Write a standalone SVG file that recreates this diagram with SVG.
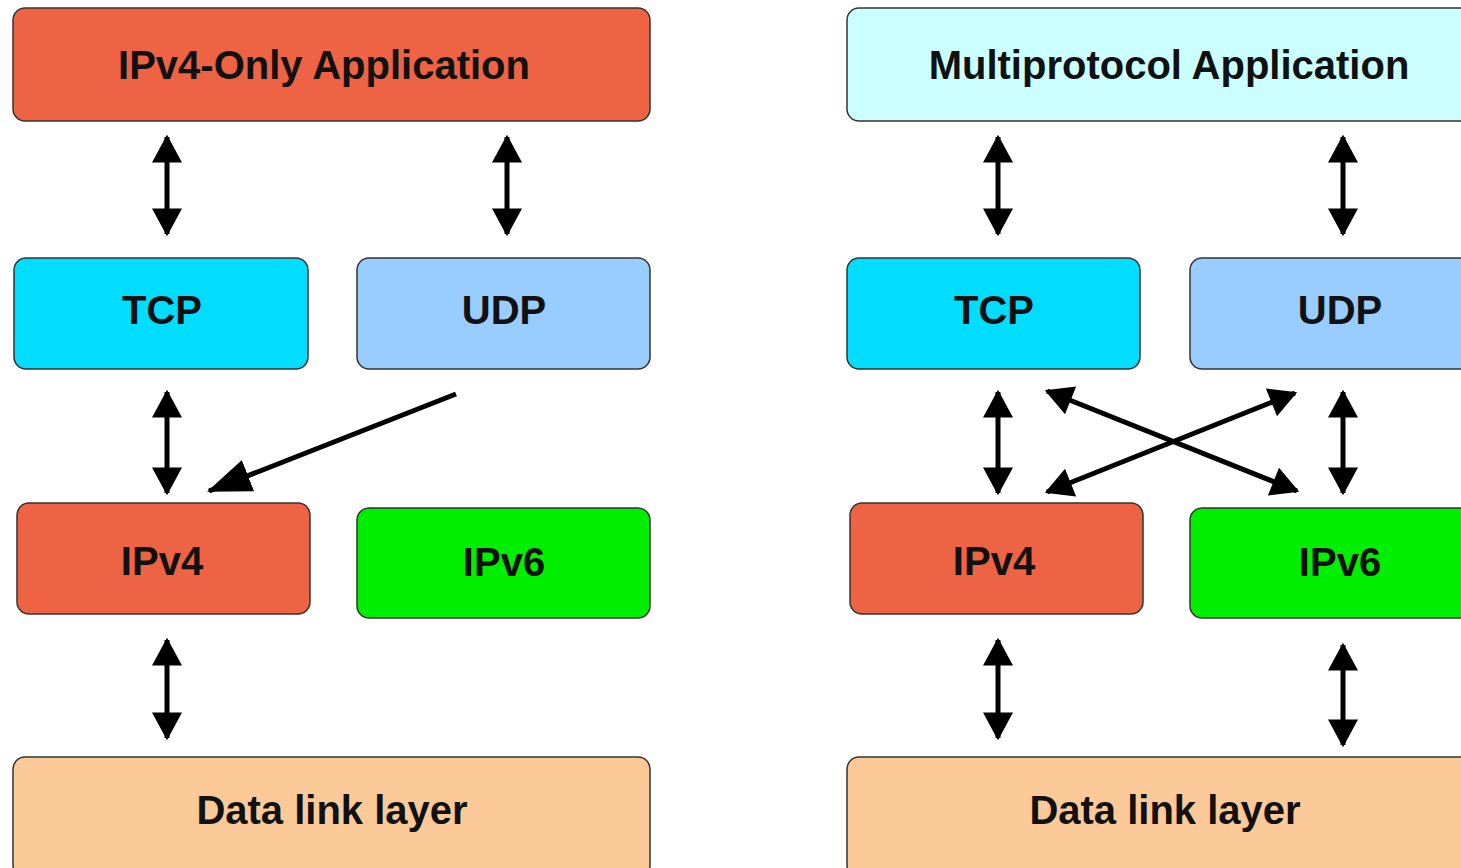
<svg xmlns="http://www.w3.org/2000/svg" width="1461" height="868" viewBox="0 0 1461 868">
<style>
.box{stroke:#333;stroke-width:1.5}
.lbl{font-family:"Liberation Sans",Arial,sans-serif;font-weight:bold;font-size:40px;fill:#111;text-anchor:middle}
.arr{stroke:#000;stroke-width:5;fill:none}
</style>
<defs>
<marker id="h" markerUnits="userSpaceOnUse" markerWidth="30" markerHeight="30" refX="22" refY="13" orient="auto-start-reverse" viewBox="0 0 24 26">
<path d="M0,0 L24,13 L0,26 Z" fill="#000"/>
</marker>
<marker id="hb" markerUnits="userSpaceOnUse" markerWidth="44" markerHeight="36" refX="40" refY="16" orient="auto" viewBox="0 0 42 32">
<path d="M0,0 L42,16 L0,32 Z" fill="#000"/>
</marker>
</defs>
<rect width="1461" height="868" fill="#fff"/>
<g id="app4"><rect class="box" x="13" y="8" width="637" height="113" rx="12" fill="#EE6343"/><text class="lbl" x="324" y="79">IPv4-Only Application</text></g>
<g id="tcpL"><rect class="box" x="14" y="258" width="294" height="111" rx="12" fill="#00DDFF"/><text class="lbl" x="162" y="324">TCP</text></g>
<g id="udpL"><rect class="box" x="357" y="258" width="293" height="111" rx="12" fill="#99CCFF"/><text class="lbl" x="504" y="324">UDP</text></g>
<g id="ipv4L"><rect class="box" x="17" y="503" width="293" height="111" rx="12" fill="#EE6343"/><text class="lbl" x="162" y="575">IPv4</text></g>
<g id="ipv6L"><rect class="box" x="357" y="508" width="293" height="110" rx="12" fill="#00EE00"/><text class="lbl" x="504" y="576">IPv6</text></g>
<g id="dlL"><rect class="box" x="13" y="757" width="637" height="120" rx="12" fill="#FCCA98"/><text class="lbl" x="332" y="824">Data link layer</text></g>
<g id="appM"><rect class="box" x="847" y="8" width="630" height="113" rx="12" fill="#CCFFFF"/><text class="lbl" x="1169" y="79">Multiprotocol Application</text></g>
<g id="tcpR"><rect class="box" x="847" y="258" width="293" height="111" rx="12" fill="#00DDFF"/><text class="lbl" x="994" y="324">TCP</text></g>
<g id="udpR"><rect class="box" x="1190" y="258" width="290" height="111" rx="12" fill="#99CCFF"/><text class="lbl" x="1340" y="324">UDP</text></g>
<g id="ipv4R"><rect class="box" x="850" y="503" width="293" height="111" rx="12" fill="#EE6343"/><text class="lbl" x="994" y="575">IPv4</text></g>
<g id="ipv6R"><rect class="box" x="1190" y="508" width="290" height="110" rx="12" fill="#00EE00"/><text class="lbl" x="1340" y="576">IPv6</text></g>
<g id="dlR"><rect class="box" x="847" y="757" width="630" height="120" rx="12" fill="#FCCA98"/><text class="lbl" x="1165" y="824">Data link layer</text></g>
<g id="connectors">
<path class="arr" d="M167,137 L167,234" marker-start="url(#h)" marker-end="url(#h)"/>
<path class="arr" d="M507,137 L507,234" marker-start="url(#h)" marker-end="url(#h)"/>
<path class="arr" d="M167,392 L167,493" marker-start="url(#h)" marker-end="url(#h)"/>
<path class="arr" d="M167,640 L167,738" marker-start="url(#h)" marker-end="url(#h)"/>
<path class="arr" d="M456,394 L209,491" marker-end="url(#hb)"/>
<path class="arr" d="M998,137 L998,234" marker-start="url(#h)" marker-end="url(#h)"/>
<path class="arr" d="M1343,137 L1343,234" marker-start="url(#h)" marker-end="url(#h)"/>
<path class="arr" d="M998,392 L998,493" marker-start="url(#h)" marker-end="url(#h)"/>
<path class="arr" d="M1343,392 L1343,493" marker-start="url(#h)" marker-end="url(#h)"/>
<path class="arr" d="M998,640 L998,738" marker-start="url(#h)" marker-end="url(#h)"/>
<path class="arr" d="M1343,645 L1343,745" marker-start="url(#h)" marker-end="url(#h)"/>
<path class="arr" d="M1047,391 L1297,491" marker-start="url(#h)" marker-end="url(#h)"/>
<path class="arr" d="M1047,492 L1295,393" marker-start="url(#h)" marker-end="url(#h)"/>
</g>
</svg>
